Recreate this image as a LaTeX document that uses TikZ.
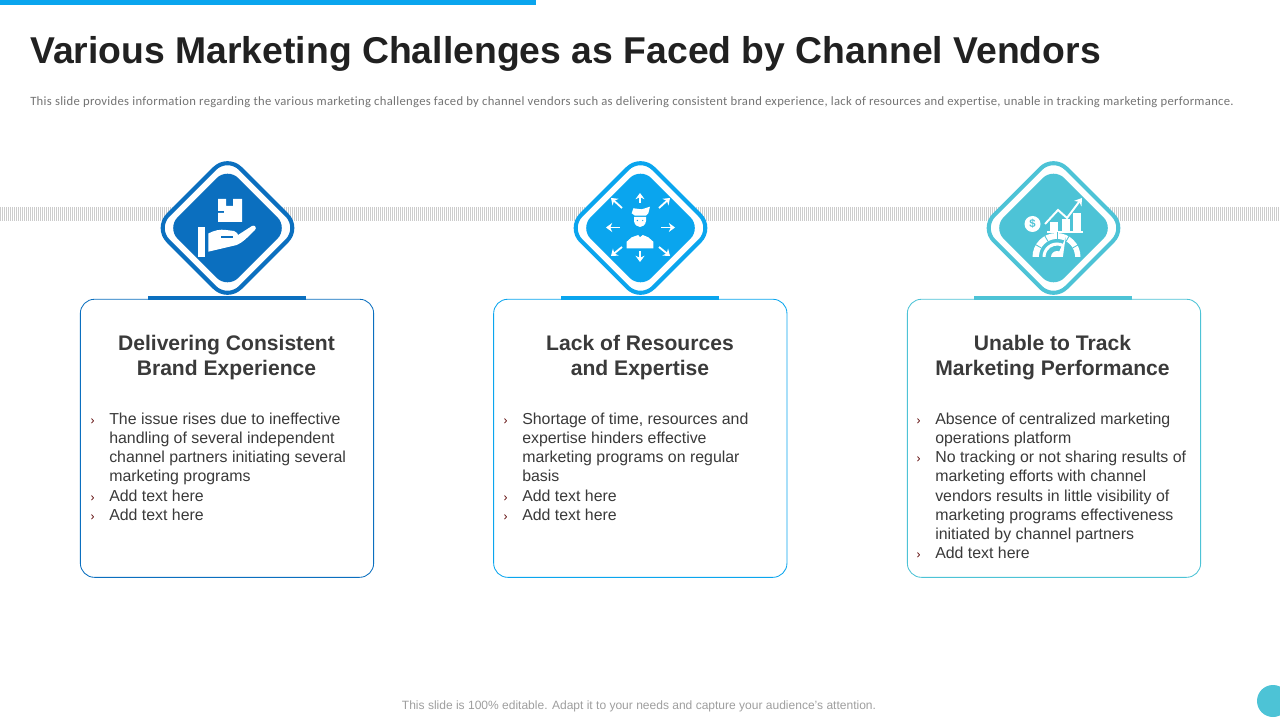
\documentclass[tikz,border=0pt]{standalone}
\usepackage{fontspec}
\setmainfont{Liberation Sans}
\newfontfamily\noteface[LetterSpace=2.4,Ligatures=NoCommon]{Carlito}
\usetikzlibrary{shapes.geometric,arrows.meta}
\definecolor{topblue}{HTML}{0AA5EE}
\definecolor{deepblue}{HTML}{0B6FBF}
\definecolor{skyblue}{HTML}{0AA5EE}
\definecolor{tealblue}{HTML}{4DC3D6}
\definecolor{inktext}{HTML}{3A3A3A}
\newcommand{\bitem}{\llap{\textcolor{red!35!black}{\fontsize{8.5}{13.6}\selectfont ›}\hspace{10.5pt}}}
\tikzset{
  cardbox/.style={draw=#1, fill=white, line width=.6pt, rounded corners=10pt, minimum width=7.33cm, minimum height=6.95cm},
  capbar/.style={fill=#1, minimum width=3.95cm, minimum height=3.2pt, inner sep=0pt},
  ringbox/.style={shape=diamond, draw=#1, fill=white, line width=2.9pt, rounded corners=13pt, minimum width=3.66cm, minimum height=3.66cm, inner sep=0pt},
  corebox/.style={shape=diamond, fill=#1, rounded corners=11pt, minimum width=3.04cm, minimum height=3.04cm, inner sep=0pt},
  headtext/.style={font=\fontsize{15}{17.8}\selectfont\bfseries, text=inktext, align=center, inner sep=0pt},
  bodytext/.style={font=\fontsize{11.3}{13.62}\selectfont, text=inktext, align=left, anchor=north west, inner sep=0pt},
  whiteline/.style={draw=white, line width=1.4pt},
  pointer/.style={draw=white, line width=1.3pt, -{Stealth[length=4.4pt,width=6.4pt]}},
}
\begin{document}
\begin{tikzpicture}[x=0.025cm, y=-0.025cm]
\useasboundingbox (0,0) rectangle (1280,720);

% top strip and heading
\fill[topblue] (0,0) rectangle (536,5);
\node[anchor=west, inner sep=0pt, text=black!87, font=\fontsize{26.55}{30}\selectfont\bfseries] (title) at (30,54) {Various Marketing Challenges as Faced by Channel Vendors};
\node[anchor=west, inner sep=0pt, text=black!55, font=\fontsize{9}{10}\noteface] (subtitle) at (30,102) {This slide provides information regarding the various marketing challenges faced by channel vendors such as delivering consistent brand experience, lack of resources and expertise, unable in tracking marketing performance.};

% hatched band
\draw[black!20, line width=.72pt] \foreach \x in {0.5,2.5,...,1280} {(\x,207) -- (\x,221)};

% cards
\node[cardbox=deepblue] (card1) at (227,438.3) {};
\node[cardbox=skyblue] (card2) at (640.3,438.3) {};
\node[cardbox=tealblue] (card3) at (1054,438.3) {};
\node[capbar=deepblue] (bar1) at (227,298) {};
\node[capbar=skyblue] (bar2) at (640,298) {};
\node[capbar=tealblue] (bar3) at (1053,298) {};

% diamonds
\node[ringbox=deepblue] (ring1) at (227.5,228) {};
\node[ringbox=skyblue] (ring2) at (640.5,228) {};
\node[ringbox=tealblue] (ring3) at (1053.5,228) {};
\node[corebox=deepblue] (core1) at (227.5,228) {};
\node[corebox=skyblue] (core2) at (640.5,228) {};
\node[corebox=tealblue] (core3) at (1053.5,228) {};

% icon 1: parcel over a hand
\fill[white] (218,199) -- (226,199) -- (226,206) -- (233,206) -- (233,199) -- (242,199) -- (242,222) -- (218,222) -- (218,213) -- (224,213) -- (224,211) -- (218,211) -- cycle;
\fill[white] (198,227) rectangle (205,257);
\fill[white] (208.3,233.5) .. controls (214,230.5) and (220,229) .. (226,230) -- (234,231) .. controls (237,232) and (238,234) .. (238,235) -- (252,226) .. controls (255,224.5) and (257,228) .. (255,230) .. controls (248,237) and (242,243) .. (236.7,245) -- (208.3,251.7) -- cycle;
\draw[deepblue, line width=.8pt] (221,237) -- (233,237);

% icon 2: person with arrows all round
\draw[pointer] (640,203) -- (640,193);
\draw[pointer] (640,251) -- (640,262);
\draw[pointer] (620,227.5) -- (606,227.5);
\draw[pointer] (661,227.5) -- (675,227.5);
\draw[pointer] (622,208) -- (611,198);
\draw[pointer] (659,208) -- (670,198);
\draw[pointer] (622,247) -- (611,256);
\draw[pointer] (659,247) -- (670,256);
\fill[white] (631.7,213.3) -- (633.3,208.3) -- (641.7,209.3) -- (650,206.7) -- (648.3,213.3) -- (646,215.7) -- (635,215.7) -- cycle;
\fill[white] (634,217) -- (646,217) -- (646,221) .. controls (645.5,225) and (642.5,227) .. (640,227) .. controls (637.5,227) and (634.5,225) .. (634,221) -- cycle;
\fill[white] (626.7,248.3) -- (626.7,241.7) -- (631.7,237.3) -- (638.3,235) -- (640,237.3) -- (642.7,235) -- (648.3,237.3) -- (653.3,241.7) -- (653.3,248.3) -- cycle;
\fill[skyblue] (637.3,220.5) circle (.7);
\fill[skyblue] (642.7,220.5) circle (.7);

% icon 3: coin, bars and gauge
\fill[white] (1032.5,224) circle (8);
\node[text=tealblue, inner sep=0pt, font=\fontsize{8}{8}\selectfont\bfseries] (coin) at (1032.5,224) {\$};
\fill[white] (1050,222) rectangle (1058,231);
\fill[white] (1062,219) rectangle (1070,231);
\fill[white] (1073,213) rectangle (1081,231);
\fill[white] (1047,231) rectangle (1083,233);
\draw[whiteline, -{Stealth[length=5pt,width=6.5pt]}] (1045,224) -- (1058,210) -- (1067,218) -- (1082,198);
\begin{scope}[shift={(1057,257)}, x=0.025cm, y=0.025cm]
\fill[white] (-24.5,0) arc (180:0:24) -- cycle;
\fill[tealblue] (-18,0) arc (180:0:18) -- cycle;
\foreach \a in {30,60,90,120,150} {\draw[tealblue, line width=.6pt] (\a:18) -- (\a:25);}
\fill[white] (-14.5,0) arc (180:60:14.5) -- (60:11.5) arc (60:180:11.5) -- cycle;
\fill[white] (-6,0) arc (180:0:6) -- cycle;
\fill[tealblue] (5,8) -- (8.5,19.5) -- (9,8) -- cycle;
\fill[white] (1,3) -- (8.5,19) -- (6,1) -- cycle;
\end{scope}

% card headings
\node[headtext] (head1) at (226.5,358) {Delivering Consistent\\Brand Experience};
\node[headtext] (head2) at (640,358) {Lack of Resources\\and Expertise};
\node[headtext] (head3) at (1052.5,358) {Unable to Track\\Marketing Performance};

% card lists
\node[bodytext] (list1) at (109,412.7) {\bitem The issue rises due to ineffective\\handling of several independent\\channel partners initiating several\\marketing programs\\\bitem Add text here\\\bitem Add text here};
\node[bodytext] (list2) at (522,412.7) {\bitem Shortage of time, resources and\\expertise hinders effective\\marketing programs on regular\\basis\\\bitem Add text here\\\bitem Add text here};
\node[bodytext] (list3) at (935,412.7) {\bitem Absence of centralized marketing\\operations platform\\\bitem No tracking or not sharing results of\\marketing efforts with channel\\vendors results in little visibility of\\marketing programs effectiveness\\initiated by channel partners\\\bitem Add text here};

% footer
\node[inner sep=0pt, text=black!38, font=\fontsize{8.55}{10}\selectfont] (footer) at (639,706) {This slide is 100\% editable. Adapt it to your needs and capture your audience's attention.};
\fill[tealblue] (1273,701) circle (16);
\end{tikzpicture}
\end{document}
